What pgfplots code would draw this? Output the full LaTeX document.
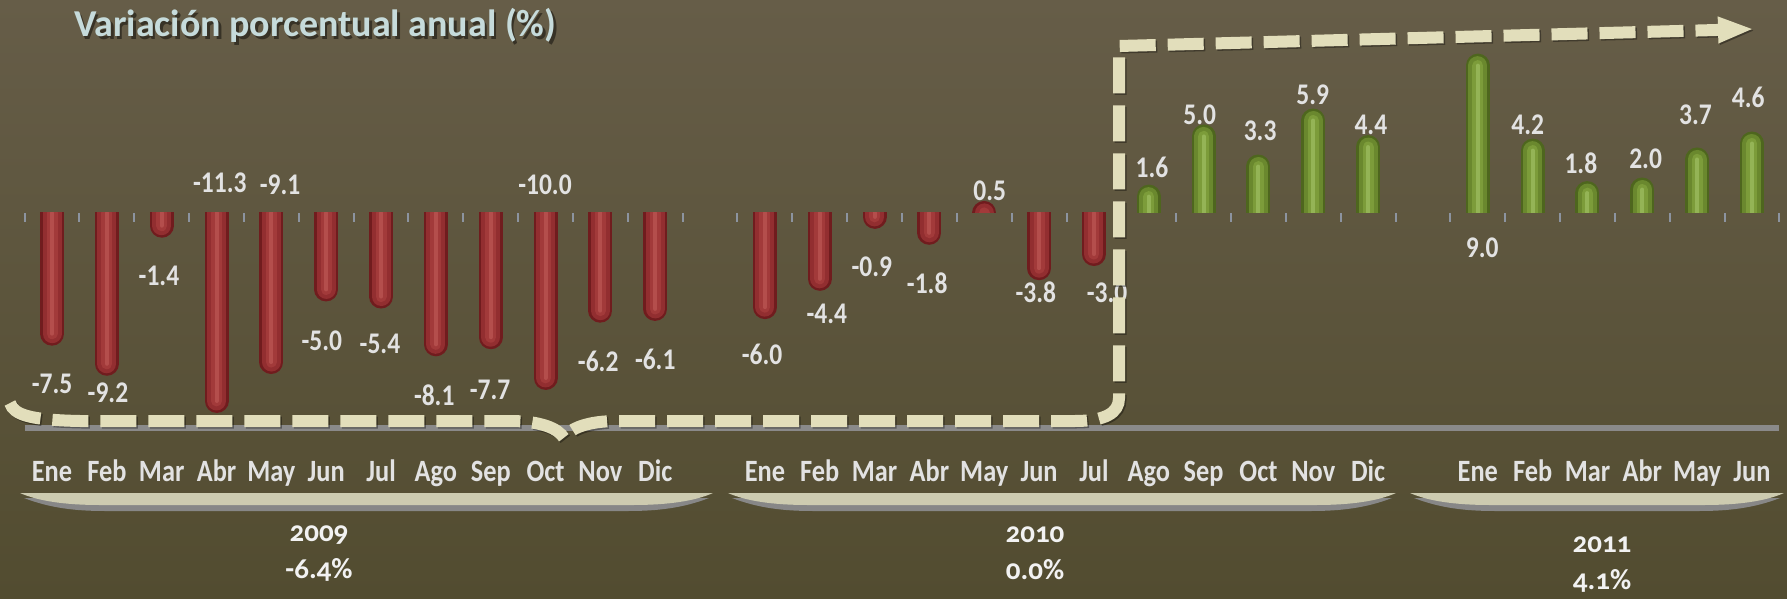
\documentclass[border=0pt]{standalone}
\usepackage{fontspec}
\setmainfont{Carlito}
\newfontfamily\cond[FakeStretch=0.85]{Carlito}
\newfontfamily\yrfont[Numbers=OldStyle]{Carlito}
\usepackage{pgfplots}
\usepackage{pgfplotstable}
\pgfplotsset{compat=1.18}
\usetikzlibrary{arrows.meta}

\definecolor{bgtop}{RGB}{102,93,72}
\definecolor{bgbot}{RGB}{82,76,48}
\definecolor{reddark}{RGB}{112,28,30}
\definecolor{redmid}{RGB}{146,46,48}
\definecolor{redlight}{RGB}{162,58,58}
\definecolor{redhi}{RGB}{180,78,76}
\definecolor{grndark}{RGB}{78,102,30}
\definecolor{grnmid}{RGB}{106,136,46}
\definecolor{grnlight}{RGB}{124,156,58}
\definecolor{grnhi}{RGB}{148,180,86}
\definecolor{cream}{RGB}{226,222,187}
\definecolor{band}{RGB}{205,203,176}
\definecolor{bandshadow}{RGB}{135,135,135}
\definecolor{lbl}{RGB}{226,226,226}
\definecolor{ttl}{RGB}{198,219,219}
\definecolor{tickc}{RGB}{140,148,160}
\definecolor{floorc}{RGB}{138,138,138}

% monthly annual variation, x = slot (gaps at 12 and 25)
\pgfplotstableread{
x v
0 -7.5
1 -9.2
2 -1.4
3 -11.3
4 -9.1
5 -5.0
6 -5.4
7 -8.1
8 -7.7
9 -10.0
10 -6.2
11 -6.1
13 -6.0
14 -4.4
15 -0.9
16 -1.8
18 -3.8
19 -3.0
}\negdata

\pgfplotstableread{
x v
17 0.5
}\redpos

\pgfplotstableread{
x v
20 1.6
21 5.0
22 3.3
23 5.9
24 4.4
26 9.0
27 4.2
28 1.8
29 2.0
30 3.7
31 4.6
}\grndata

% where each value label sits
\pgfplotstableread{
lx ly lab
0 -9.63 -7.5
1.02 -10.17 -9.2
1.95 -3.56 -1.4
3.06 1.7 -11.3
4.16 1.6 -9.1
4.92 -7.2 -5.0
5.98 -7.4 -5.4
6.97 -10.3 -8.1
7.99 -10.0 -7.7
8.99 1.6 -10.0
9.96 -8.4 -6.2
11.0 -8.3 -6.1
12.95 -8.0 -6.0
14.13 -5.68 -4.4
14.95 -3.05 -0.9
15.96 -3.98 -1.8
17.1 1.24 0.5
17.94 -4.49 -3.8
19.24 -4.49 -3.0
20.06 2.57 1.6
20.93 5.54 5.0
22.03 4.63 3.3
22.99 6.67 5.9
24.05 4.95 4.4
26.08 -1.95 9.0
26.91 4.97 4.2
27.88 2.8 1.8
29.06 3.05 2.0
29.97 5.54 3.7
30.93 6.5 4.6
}\labels

\pgfplotsset{
  frame/.style={at={(24.6pt,#1)},anchor=south west,scale only axis,
    width=1754.8pt,xmin=-0.5,xmax=31.5},
}

\begin{document}
\begin{tikzpicture}[x=1pt,y=1pt]
\useasboundingbox (0,0) rectangle (1787,598);
\shade[top color=bgtop,bottom color=bgbot] (0,0) rectangle (1787,598);

% negative bars, clipped at zero
\begin{axis}[frame=170pt,height=215.06pt,ymin=-12.15,ymax=0,hide axis]
  \addplot[ycomb,mark=none,draw=reddark,line width=24pt,line cap=round] table[x=x,y expr=\thisrow{v}+0.678] {\negdata};
  \addplot[ycomb,mark=none,draw=redmid,line width=19pt,line cap=round] table[x=x,y expr=\thisrow{v}+0.678] {\negdata};
  \addplot[ycomb,mark=none,draw=redlight,line width=11pt,line cap=round] table[x=x,y expr=\thisrow{v}+0.678] {\negdata};
  \addplot[ycomb,mark=none,draw=redhi,line width=4pt,line cap=round] table[x=x,y expr=\thisrow{v}+0.678] {\negdata};
\end{axis}

% positive bars, clipped at zero, ticks on the zero line
\begin{axis}[frame=385.06pt,height=177pt,ymin=0,ymax=10,
  axis x line*=bottom,axis y line=none,x axis line style={draw=none},
  xtick={-0.5,0.5,...,31.5},xticklabel style={opacity=0},
  tick align=outside,major tick length=9pt,
  tick style={draw=tickc,line width=2pt}]
  \addplot[ycomb,mark=none,draw=reddark,line width=24pt,line cap=round] table[x=x,y expr=\thisrow{v}-0.678] {\redpos};
  \addplot[ycomb,mark=none,draw=redmid,line width=19pt,line cap=round] table[x=x,y expr=\thisrow{v}-0.678] {\redpos};
  \addplot[ycomb,mark=none,draw=redlight,line width=11pt,line cap=round] table[x=x,y expr=\thisrow{v}-0.678] {\redpos};
  \addplot[ycomb,mark=none,draw=grndark,line width=24pt,line cap=round] table[x=x,y expr=\thisrow{v}-0.678] {\grndata};
  \addplot[ycomb,mark=none,draw=grnmid,line width=19pt,line cap=round] table[x=x,y expr=\thisrow{v}-0.678] {\grndata};
  \addplot[ycomb,mark=none,draw=grnlight,line width=11pt,line cap=round] table[x=x,y expr=\thisrow{v}-0.678] {\grndata};
  \addplot[ycomb,mark=none,draw=grnhi,line width=4pt,line cap=round] table[x=x,y expr=\thisrow{v}-0.678] {\grndata};
\end{axis}

% floor line, month names and value labels
\begin{axis}[frame=170pt,height=392.1pt,ymin=-12.15,ymax=10,clip=false,
  axis x line*=bottom,axis y line=none,
  x axis line style={draw=floorc,line width=6pt,-},
  xtick={0,1,2,3,4,5,6,7,8,9,10,11,13,14,15,16,17,18,19,20,21,22,23,24,26,27,28,29,30,31},
  xticklabels={Ene,Feb,Mar,Abr,May,Jun,Jul,Ago,Sep,Oct,Nov,Dic,Ene,Feb,Mar,Abr,May,Jun,Jul,Ago,Sep,Oct,Nov,Dic,Ene,Feb,Mar,Abr,May,Jun},
  major tick length=0pt,
  xticklabel style={anchor=base,yshift=-53pt,text=lbl,font=\cond\bfseries\fontsize{31}{31}\selectfont}]
  \addplot[draw=none,mark=none,nodes near coords,point meta=explicit symbolic,
    nodes near coords align=center,
    every node near coord/.append style={anchor=center,text=lbl,inner sep=0pt,
      font=\cond\bfseries\fontsize{30}{30}\selectfont}]
    table[x=lx,y=ly,meta=lab] {\labels};
\end{axis}

% year brackets
\foreach \a/\b in {20/713,728/1396,1410/1784}{
  \fill[bandshadow] (\a+4,100) .. controls (\a+30,90) and (\a+55,87) .. (\a+85,87) -- (\b-85,87) .. controls (\b-55,87) and (\b-30,90) .. (\b-4,100) -- cycle;
  \fill[band] (\a,105) -- (\b,105) .. controls (\b-18,97) and (\b-45,93) .. (\b-80,93) -- (\a+80,93) .. controls (\a+45,93) and (\a+18,97) .. cycle;
}

% dashed guide with arrow
\draw[black,opacity=0.35,line width=12pt,dash pattern=on 36pt off 12pt,line join=miter,-{Triangle[length=36pt,width=24pt]}]
  (11.5,193.5) .. controls (15.5,181.5) and (31.5,176.5) .. (81.5,175.5) -- (511.5,175.5)
  .. controls (541.5,175.5) and (559.5,168.5) .. (565.5,158.5)
  .. controls (571.5,168.5) and (589.5,175.5) .. (619.5,175.5) -- (1076.5,175.5)
  .. controls (1106.5,175.5) and (1120.5,183.5) .. (1120.5,198.5) -- (1120.5,550.5) -- (1755.5,567.5);
\draw[cream,line width=12pt,dash pattern=on 36pt off 12pt,line join=miter,-{Triangle[length=36pt,width=24pt]}]
  (10,195) .. controls (14,183) and (30,178) .. (80,177) -- (510,177)
  .. controls (540,177) and (558,170) .. (564,160)
  .. controls (570,170) and (588,177) .. (618,177) -- (1075,177)
  .. controls (1105,177) and (1119,185) .. (1119,200) -- (1119,552) -- (1754,569);

% title
\node[anchor=base west,inner sep=0pt,text=black,opacity=0.45,font=\bfseries\fontsize{38}{38}\selectfont] at (76.5,558.5) {Variación porcentual anual (\%)};
\node[anchor=base west,inner sep=0pt,text=ttl,font=\bfseries\fontsize{38}{38}\selectfont] at (74,561) {Variación porcentual anual (\%)};

% yearly figures
\begin{scope}[every node/.style={text={rgb,255:red,242;green,242;blue,242},inner sep=0pt,font=\yrfont\bfseries\fontsize{29}{29}\selectfont}]
\node at (319,63) {2009};
\node at (319,28) {-6.4\%};
\node at (1035,63) {2010};
\node at (1035,28) {0.0\%};
\node at (1602,53) {2011};
\node at (1602,17) {4.1\%};
\end{scope}
\end{tikzpicture}
\end{document}
